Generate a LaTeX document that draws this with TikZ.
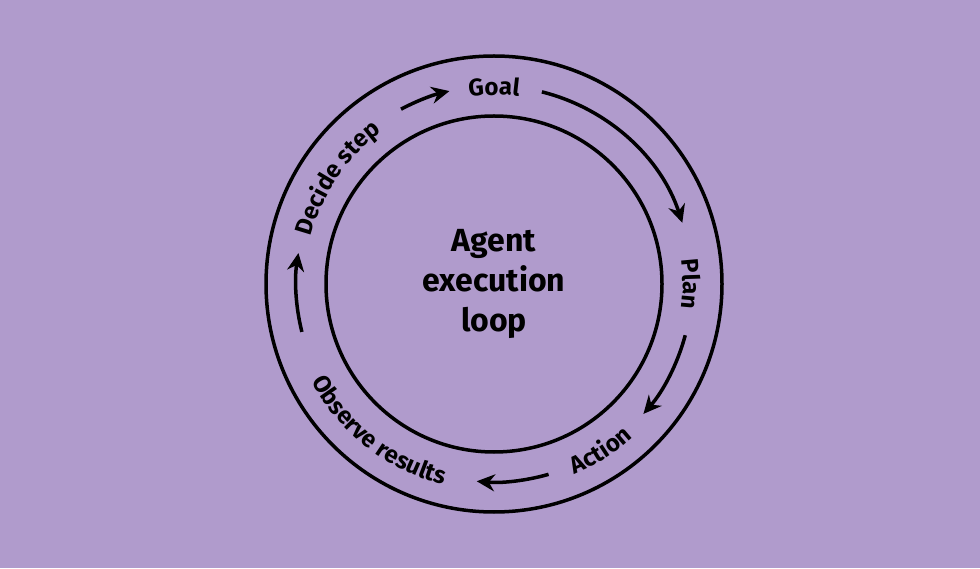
\documentclass[tikz,border=0pt]{standalone}
\usepackage{fontspec}
\setmainfont{Fira Sans}
\usetikzlibrary{decorations.text,arrows.meta}
\definecolor{bg}{HTML}{B09BCC}
\newfontfamily\ringfont{Fira Sans Bold}
\tikzset{
  ring/.style={line width=3.5pt,draw=black},
  arr/.style={line width=3.5pt,-{Stealth[length=18pt,width=17pt]}},
}
\newcommand{\ringtext}[4]{% text, start, end, radius
  \path[decorate,decoration={text along path,text align=center,
    text={|\ringfont\fontsize{24}{24}\selectfont|#1}}]
    ([shift={(#2:#4pt)}]c) arc[start angle=#2,end angle=#3,radius=#4pt];}
\begin{document}
\begin{tikzpicture}[x=1pt,y=1pt]
\fill[bg] (0,0) rectangle (980,568);
\useasboundingbox (0,0) rectangle (980,568);
\coordinate (c) at (494,284);
\draw[ring] (c) circle[radius=228pt];
\draw[ring] (c) circle[radius=168pt];
\node[align=center,font=\ringfont\fontsize{32}{40}\selectfont] (title) at (c) {Agent\\execution\\loop};
\ringtext{Goal}{115}{65}{189}
\ringtext{Plan}{25}{-25}{189}
\ringtext{Action}{-85}{-30}{207}
\ringtext{Observe results}{-178}{-78}{207}
\ringtext{Decide step}{188}{104}{189}
\draw[arr] ([shift={(118:198pt)}]c) arc[start angle=118,end angle=103,radius=198pt];
\draw[arr] ([shift={(76:198pt)}]c) arc[start angle=76,end angle=18,radius=198pt];
\draw[arr] ([shift={(-15:198pt)}]c) arc[start angle=-15,end angle=-41,radius=198pt];
\draw[arr] ([shift={(-74:198pt)}]c) arc[start angle=-74,end angle=-95,radius=198pt];
\draw[arr] ([shift={(194:198pt)}]c) arc[start angle=194,end angle=171,radius=198pt];
\end{tikzpicture}
\end{document}
